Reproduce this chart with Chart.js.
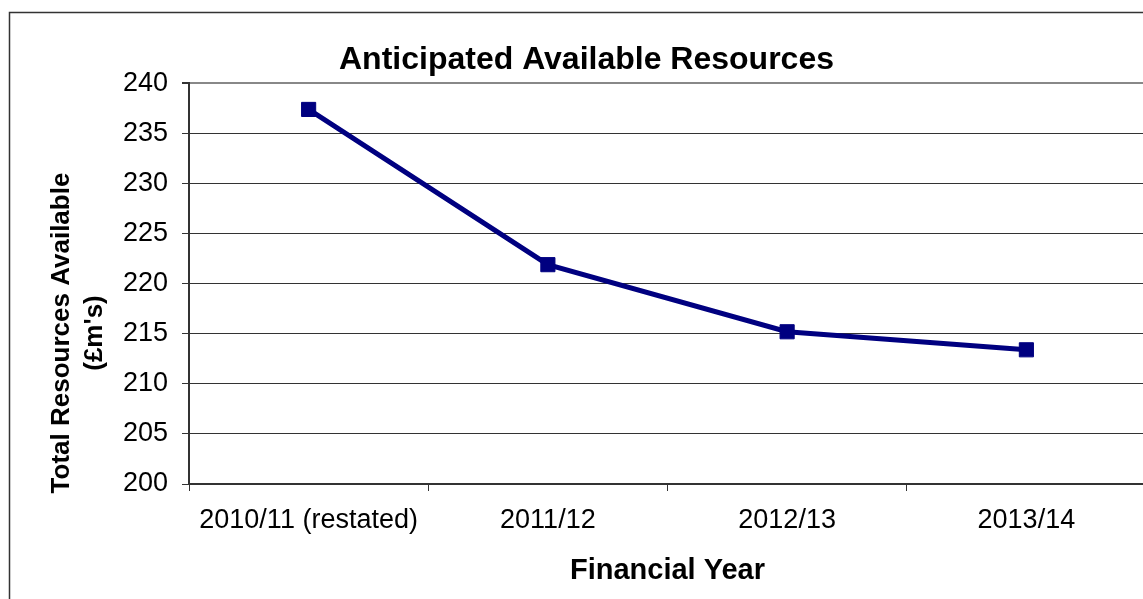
<!DOCTYPE html>
<html><head><meta charset="utf-8">
<script src="https://cdn.jsdelivr.net/npm/chart.js@4/dist/chart.umd.min.js"></script>
<style>
html,body{margin:0;padding:0;overflow:hidden;background:#fff;width:1143px;height:599px}
#wrap{position:absolute;left:0;top:0;width:1160px;height:620px}
canvas{display:block}
</style>
</head><body><div id="wrap"><canvas id="c" width="1160" height="620"></canvas></div>
<script>
const categories = ['2010/11 (restated)', '2011/12', '2012/13', '2013/14'];
const resources = [237.4, 221.9, 215.2, 213.4];
const yMin = 200, yMax = 240, yStep = 5;
const chartTitle = 'Anticipated Available Resources';
const xTitle = 'Financial Year';
const yTitleLines = ['Total Resources Available', "(£m's)"];

const FONT = '"Liberation Sans", Arial, sans-serif';

const framePlugin = {
  id: 'frame',
  beforeDraw(chart) {
    const ctx = chart.ctx;
    ctx.save();
    ctx.fillStyle = '#fff';
    ctx.fillRect(0, 0, chart.width, chart.height);
    ctx.strokeStyle = '#333';
    ctx.lineWidth = 1.5;
    ctx.strokeRect(9.5, 12.5, chart.width + 20, chart.height + 20);
    ctx.restore();
  }
};

const yTitlePlugin = {
  id: 'yTitle',
  afterDraw(chart) {
    const ctx = chart.ctx;
    ctx.save();
    ctx.font = 'bold 26px ' + FONT;
    ctx.fillStyle = '#000';
    ctx.textAlign = 'center';
    ctx.textBaseline = 'middle';
    const xs = [62, 95];
    yTitleLines.forEach((t, i) => {
      ctx.save();
      ctx.translate(xs[i], 333);
      ctx.rotate(-Math.PI / 2);
      ctx.fillText(t, 0, 0);
      ctx.restore();
    });
    ctx.restore();
  }
};

new Chart(document.getElementById('c'), {
  type: 'line',
  data: {
    labels: categories,
    datasets: [{
      data: resources,
      borderColor: '#000080',
      backgroundColor: '#000080',
      borderWidth: 5,
      pointStyle: 'rect',
      pointRadius: 10,
      pointBorderWidth: 1,
      pointBackgroundColor: '#000080',
      pointBorderColor: '#000080',
      tension: 0,
      fill: false
    }]
  },
  options: {
    responsive: false,
    animation: false,
    devicePixelRatio: 1,
    layout: { padding: { left: 27, right: 14, top: 0, bottom: 32 } },
    plugins: {
      legend: { display: false },
      tooltip: { enabled: false },
      title: {
        display: true,
        text: chartTitle,
        color: '#000',
        font: { family: FONT, size: 32, weight: 'bold' },
        padding: { top: 41, bottom: 4 }
      }
    },
    scales: {
      x: {
        offset: true,
        grid: { display: true, drawOnChartArea: false, drawTicks: true, tickLength: 7, offset: true, color: '#333', tickColor: '#333' },
        border: { display: true, color: '#333', width: 2 },
        ticks: { color: '#000', font: { family: FONT, size: 27 }, padding: 13, maxRotation: 0, autoSkip: false },
        title: { display: true, text: xTitle, color: '#000', font: { family: FONT, size: 29, weight: 'bold' }, padding: { top: 0, bottom: 0 } },
        afterFit(s) { s.height = 104; }
      },
      y: {
        min: yMin, max: yMax,
        grid: {
          color: c => c.tick && c.tick.value === yMax ? '#888' : '#333',
          lineWidth: c => c.tick && c.tick.value === yMax ? 2 : 1,
          tickColor: '#333',
          tickLength: 7,
          drawTicks: true
        },
        border: { display: true, color: '#333', width: 2 },
        ticks: { stepSize: yStep, color: '#000', font: { family: FONT, size: 27 }, padding: 14 },
        afterFit(s) { s.width = 162; }
      }
    }
  },
  plugins: [framePlugin, yTitlePlugin]
});
</script>
</body></html>
